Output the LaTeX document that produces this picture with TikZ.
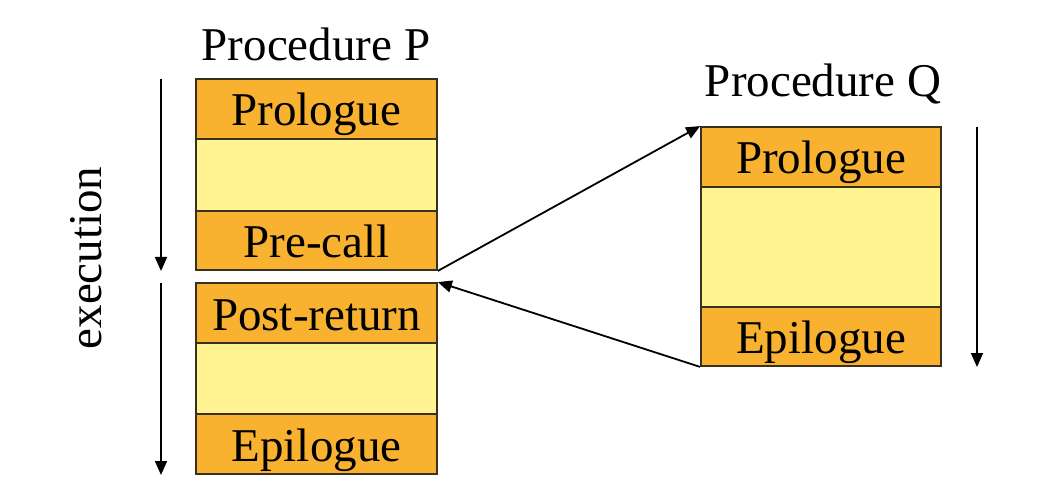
\documentclass[tikz,border=0pt]{standalone}
\usepackage{fontspec}
\setmainfont{Liberation Serif}
\usetikzlibrary{arrows.meta}
\definecolor{segdark}{HTML}{F8B230}
\definecolor{seglight}{HTML}{FFF491}
\definecolor{segline}{HTML}{3A3020}
\tikzset{
  seg/.style={draw=segline, line width=1.8pt, rectangle, inner sep=0pt,
    minimum width=241pt, text height=34pt, text depth=0pt,
    font=\fontsize{47}{56}\selectfont, text=black},
  dseg/.style={seg, fill=segdark},
  lseg/.style={seg, fill=seglight},
  arr/.style={line width=1.8pt, -{Triangle[length=14pt,width=12pt]}},
  lbl/.style={font=\fontsize{47}{56}\selectfont, inner sep=0pt}
}
\begin{document}
\begin{tikzpicture}[x=1pt,y=-1pt]
\useasboundingbox (0,0) rectangle (1047,489);
% Procedure P
\node[lbl] (labP) at (316,44) {Procedure P};
\node[dseg, minimum height=60pt] (pP) at (316.5,109) {Prologue};
\node[lseg, minimum height=72pt] (pM) at (316.5,175) {};
\node[dseg, minimum height=59pt] (pC) at (316.5,240.5) {Pre-call};
\node[dseg, minimum height=60pt] (pR) at (316.5,313) {Post-return};
\node[lseg, minimum height=71pt] (pM2) at (316.5,378.5) {};
\node[dseg, minimum height=60pt] (pE) at (316.5,444) {Epilogue};
% Procedure Q
\node[lbl] (labQ) at (823,84) {Procedure Q};
\node[dseg, minimum height=60pt, minimum width=240pt] (qP) at (821,157) {Prologue};
\node[lseg, minimum height=120pt, minimum width=240pt] (qM) at (821,247) {};
\node[dseg, minimum height=59pt, minimum width=240pt] (qE) at (821,336.5) {Epilogue};
% execution arrows
\coordinate (a1s) at (161,79);
\coordinate (a1e) at (161,271);
\coordinate (a2s) at (161,283);
\coordinate (a2e) at (161,475);
\coordinate (a3s) at (977,127);
\coordinate (a3e) at (977,367);
\draw[arr] (a1s) -- (a1e);
\draw[arr] (a2s) -- (a2e);
\draw[arr] (a3s) -- (a3e);
\node[lbl, rotate=90] (exe) at (86,258) {execution};
% call / return
\draw[arr] (pC.south east) -- (qP.north west);
\draw[arr] (qE.south west) -- (pR.north east);
\end{tikzpicture}
\end{document}
